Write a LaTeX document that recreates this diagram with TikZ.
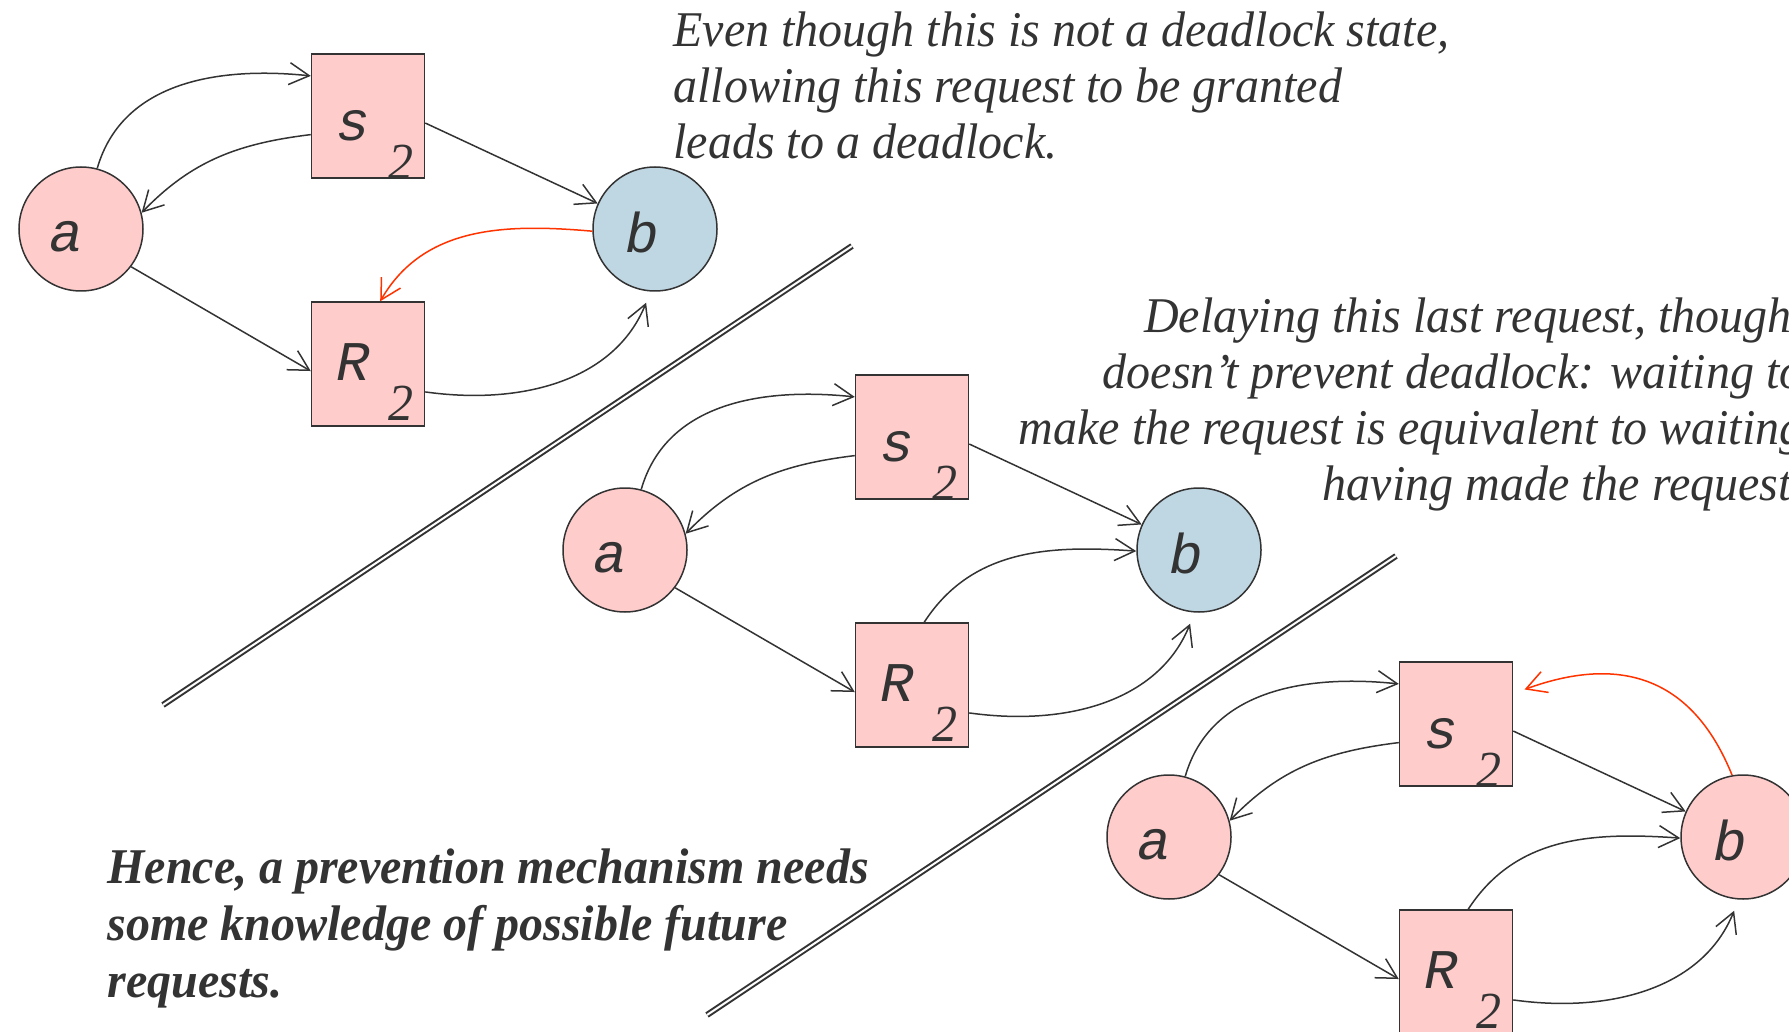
\documentclass[tikz,border=0pt]{standalone}
\usepackage{fontspec}
\setmainfont{Liberation Serif}
\newfontfamily\notefont[FakeStretch=0.96]{Liberation Serif}
\newfontfamily\tagfont{Liberation Mono}
\usetikzlibrary{arrows.meta}

\definecolor{procpink}{HTML}{FFCCCC}
\definecolor{procblue}{HTML}{BFD7E3}
\definecolor{linegray}{HTML}{333333}
\definecolor{reqred}{HTML}{FF3300}

\tikzset{
  proc/.style={circle, draw=linegray, line width=0.75pt, minimum size=62pt, inner sep=0pt},
  res/.style={rectangle, draw=linegray, fill=procpink, line width=0.75pt,
    minimum width=56.5pt, minimum height=62pt, inner sep=0pt},
  tag/.style={text=linegray, inner sep=0pt, font=\tagfont\itshape\fontsize{28}{30}\selectfont},
  subtag/.style={text=linegray, inner sep=0pt, font=\notefont\itshape\fontsize{26}{28}\selectfont},
  conn/.style={draw=linegray, line width=0.75pt, -{Straight Barb[length=10pt,width=11pt]}},
  hotconn/.style={conn, draw=reqred},
  divider/.style={draw=linegray, line width=1pt, double, double distance=1pt},
  note/.style={text=linegray, inner sep=0pt, font=\notefont\itshape\fontsize{25}{28}\selectfont},
}

\begin{document}
\begin{tikzpicture}[x=0.5pt, y=-0.5pt]
  \useasboundingbox (0,0) rectangle (1789,1032);

  % the three allocation graphs, each one step further on
  \foreach \i/\dx/\dy/\bcol in {1/0/0/procblue, 2/544/321/procblue, 3/1088/608/procpink} {
    \begin{scope}[shift={(\dx,\dy)}]
      \node[proc, fill=procpink, label={[tag, xshift=-7.5pt, yshift=-4pt]center:a}] (a\i) at (81,229) {};
      \node[proc, fill=\bcol, label={[tag, xshift=-6.5pt, yshift=-1.5pt]center:b}] (b\i) at (655,229) {};
      \node[res, label={[tag, xshift=-7.5pt, yshift=-5pt]center:s},
        label={[subtag, xshift=16.5pt, yshift=-23pt]center:2}] (s\i) at (368,116) {};
      \node[res, label={[tag, xshift=-7.3pt, yshift=0.8pt]center:R},
        label={[subtag, xshift=16.5pt, yshift=-19.5pt]center:2}] (r\i) at (368,364) {};
    \end{scope}
    \draw[conn] (a\i.75) to[out=74, in=174] (s\i.145);
    \draw[conn] (s\i.198) to[out=187, in=46] (a\i.15);
    \draw[conn] (a\i.-37) -- (r\i.187);
    \draw[conn] (s\i.-7) -- (b\i.156);
    \draw[conn, shorten >=6pt] (r\i.-26) to[out=-8, in=248] (b\i.-94);
  }

  % request edges that differ between the graphs
  \draw[hotconn] (b1.182) to[out=175, in=60] (r1.79);
  \draw[conn] (r2.79) to[out=57, in=176] (b2.181);
  \draw[conn] (r3.79) to[out=57, in=176] (b3.181);
  \draw[hotconn, shorten >=6pt] (b3.100) to[out=112, in=20, looseness=1.2] (s3.28);

  % dividers
  \draw[divider] (163,705) -- (852,246);
  \draw[divider] (707,1015) -- (1396,556);

  % notes (base anchor sits on the last line)
  \node[note, anchor=base west, align=left] (grant) at (673,159)
    {Even though this is not a deadlock state,\\allowing this request to be granted\\leads to a deadlock.};
  \node[note, anchor=base east, align=right] (delay) at (1804,500)
    {Delaying this last request, though,\\doesn’t prevent deadlock: waiting to\\make the request is equivalent to waiting\\having made the request.};
  \node[note, font=\notefont\bfseries\itshape\fontsize{25}{28.5}\selectfont, anchor=base west, align=left] (hence) at (107,997)
    {Hence, a prevention mechanism needs\\some knowledge of possible future\\requests.};
\end{tikzpicture}
\end{document}
